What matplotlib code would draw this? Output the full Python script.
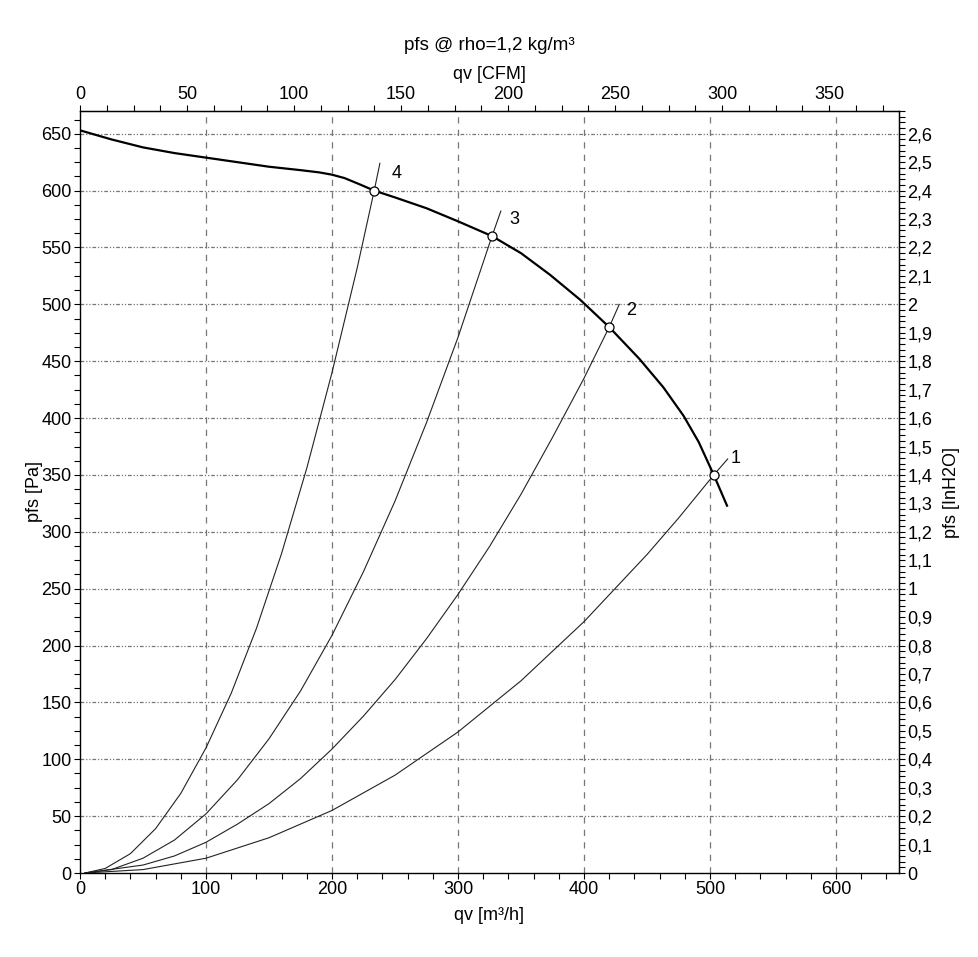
import matplotlib
matplotlib.use("Agg")
import matplotlib.pyplot as plt
from matplotlib.ticker import MultipleLocator, FixedLocator, FuncFormatter

plt.rcParams['font.family'] = ['Liberation Sans', 'DejaVu Sans']

# Fan curve (m3/h, Pa)
fan_q = [0, 25, 50, 75, 100, 125, 150, 175, 190, 200, 210, 222, 233.5, 250, 275, 300, 327, 350, 373, 397, 420, 444, 463, 479, 491, 503, 513.5]
fan_p = [653, 645, 638, 633, 629, 625, 621, 618, 616, 614, 611, 605.5, 600, 594, 584.5, 573, 560, 545, 526, 504, 480, 452, 427, 402, 379, 350, 323]

# System curves
sys1_q = [4, 50, 100, 150, 200, 250, 300, 350, 400, 450, 475, 503, 514]
sys1_p = [0, 3, 13, 31, 55, 86, 124, 169, 221, 280, 312, 350, 364]
sys2_q = [4, 50, 75, 100, 125, 150, 175, 200, 225, 250, 275, 300, 325, 350, 375, 400, 420, 428]
sys2_p = [0, 7, 15, 27, 43, 61, 83, 109, 138, 170, 206, 245, 287, 333, 383, 435, 480, 500]
sys3_q = [4, 25, 50, 75, 100, 125, 150, 175, 200, 225, 250, 275, 300, 327, 334]
sys3_p = [0, 3, 13, 29, 52, 82, 118, 160, 209, 265, 327, 396, 471, 560, 582]
sys4_q = [4, 20, 40, 60, 80, 100, 120, 140, 160, 180, 200, 220, 233.5, 238]
sys4_p = [0, 4, 17, 39, 70, 110, 158, 215, 281, 356, 440, 532, 600, 624]

op_q = [503, 420, 327, 233.5]
op_p = [350, 480, 560, 600]
op_labels = ["1", "2", "3", "4"]

cfm_ticks = [0, 50, 100, 150, 200, 250, 300, 350]
inh2o_ticks = [i / 10 for i in range(0, 27)]

W, H = 979, 957
FS = 13
fig = plt.figure(figsize=(W / 100, H / 100), dpi=100)
ax = fig.add_axes([80 / W, 1 - 873 / H, (899 - 80) / W, (873 - 111) / H])

ax.set_xlim(0, 650)
ax.set_ylim(0, 670)

# grid
for xv in range(100, 700, 100):
    ax.axvline(xv, color='#777777', lw=0.9, ls=(0, (5, 5)), zorder=1)
for yv in range(50, 700, 50):
    ax.axhline(yv, color='#777777', lw=0.9, ls=(0, (3, 1.5, 1, 1.5, 1, 1.5)), zorder=1)

for q, p in [(sys1_q, sys1_p), (sys2_q, sys2_p), (sys3_q, sys3_p), (sys4_q, sys4_p)]:
    ax.plot(q, p, color='#222222', lw=0.8, zorder=2)

ax.plot(fan_q, fan_p, color='black', lw=1.6, zorder=3, solid_joinstyle='round')
ax.plot(op_q, op_p, 'o', ms=6.5, mfc='white', mec='black', mew=0.9, zorder=4)
for q, p, t in zip(op_q, op_p, op_labels):
    ax.annotate(t, (q, p), xytext=(16, 12), textcoords='offset points', fontsize=FS,
                ha='center', va='center')

ax.xaxis.set_major_locator(MultipleLocator(100))
ax.xaxis.set_minor_locator(MultipleLocator(20))
ax.yaxis.set_major_locator(MultipleLocator(50))
ax.yaxis.set_minor_locator(MultipleLocator(12.5))
ax.tick_params(which='both', direction='out', length=4, width=0.8, labelsize=FS, pad=2)
for s in ax.spines.values():
    s.set_linewidth(1.0)

CFM = 1.699
INH2O = 250.0
top = ax.secondary_xaxis('top', functions=(lambda q: q / CFM, lambda c: c * CFM))
top.xaxis.set_major_locator(FixedLocator(cfm_ticks))
top.xaxis.set_minor_locator(FixedLocator([i * 12.5 for i in range(0, 31)]))
top.tick_params(which='both', direction='out', length=4, width=0.8, labelsize=FS, pad=2)
top.set_xlabel('qv [CFM]', fontsize=FS)
top.xaxis.set_label_coords(0.5, (873 - 79) / 762, transform=ax.transAxes)

right = ax.secondary_yaxis('right', functions=(lambda p: p / INH2O, lambda i: i * INH2O))
right.yaxis.set_major_locator(FixedLocator(inh2o_ticks))
right.yaxis.set_minor_locator(FixedLocator([i / 50 for i in range(0, 135)]))
def fmt(v, pos):
    s = ('%.1f' % v).rstrip('0').rstrip('.')
    return s.replace('.', ',')
right.yaxis.set_major_formatter(FuncFormatter(fmt))
right.tick_params(which='both', direction='out', length=4, width=0.8, labelsize=FS, pad=2)
right.set_ylabel('pfs [InH2O]', fontsize=FS)
right.yaxis.set_label_coords((943 - 80) / 819, 0.5, transform=ax.transAxes)

ax.set_xlabel('qv [m³/h]', fontsize=FS)
ax.xaxis.set_label_coords(0.5, (873 - 907) / 762)
ax.set_ylabel('pfs [Pa]', fontsize=FS)
ax.yaxis.set_label_coords((43 - 80) / 819, 0.5)

fig.text((80 + 899) / 2 / W, 1 - 46 / H, 'pfs @ rho=1,2 kg/m³', fontsize=13.5, ha='center', va='center')

fig.savefig('out.png', dpi=100)
